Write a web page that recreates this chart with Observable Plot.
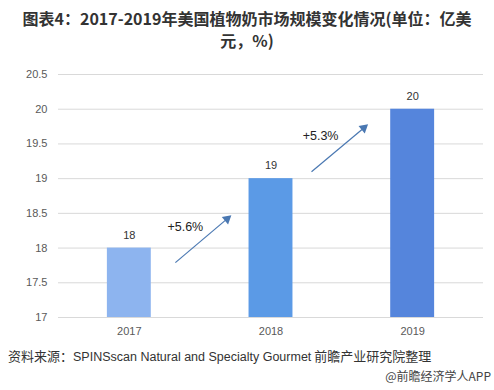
<!DOCTYPE html>
<html><head><meta charset="utf-8">
<script src="https://cdn.jsdelivr.net/npm/d3@7"></script>
<script src="https://cdn.jsdelivr.net/npm/@observablehq/plot@0.6"></script>
<style>
body{margin:0;background:#fff;width:494px;height:390px;overflow:hidden;font-family:"Noto Sans CJK SC",sans-serif;}
#title{height:55px;padding-top:7px;box-sizing:border-box;text-align:center;font-weight:bold;font-size:16px;line-height:22px;color:#333;white-space:nowrap}
#title div{height:22px}
#chart{height:290px}
#src{font-size:13px;color:#333;padding-left:8px;height:22px;line-height:22px;white-space:nowrap}
#src .en{font-family:"Liberation Sans",Arial,sans-serif;font-size:12.5px}
#wm{font-size:12px;color:#444;text-align:right;padding-right:3px;line-height:18px}
</style></head>
<body>
<div id="title"><div>图表4：2017-2019年美国植物奶市场规模变化情况(单位：亿美</div><div>元，%)</div></div>
<div id="chart"></div>
<div id="src">资料来源：<span class="en">SPINSscan Natural and Specialty Gourmet</span> 前瞻产业研究院整理</div>
<div id="wm">@前瞻经济学人APP</div>
<script>
const years = ["2017", "2018", "2019"];
const values = [18, 19, 20];
const barColors = ["#8db4ef", "#5b9ae6", "#5585dc"];
const yTicks = [17, 17.5, 18, 18.5, 19, 19.5, 20, 20.5];
const growthLabels = ["+5.6%", "+5.3%"];
// annotation anchors (x in bar-index units, y in value units)
const arrowX1 = [0.325, 1.286];
const arrowY1 = [17.79, 19.10];
const arrowX2 = [0.69, 1.655];
const arrowY2 = [18.42, 19.73];
const labelX = [0.395, 1.35];
const labelY = [18.30, 19.61];

const W = 494, H = 290, ML = 58, MR = 11, MT = 19, MB = 28;
const xDomain = [-0.5, 2.5], yDomain = [17, 20.5];
const pxX = (W - ML - MR) / (xDomain[1] - xDomain[0]);
const pxY = (H - MT - MB) / (yDomain[1] - yDomain[0]);

const bars = years.map((y, i) => ({i, year: y, value: values[i], color: barColors[i]}));
const arrows = growthLabels.map((g, k) => {
  const dx = (arrowX2[k] - arrowX1[k]) * pxX, dy = (arrowY2[k] - arrowY1[k]) * pxY;
  return {g, x1: arrowX1[k], y1: arrowY1[k], x2: arrowX2[k], y2: arrowY2[k], lx: labelX[k], ly: labelY[k],
    rot: Math.atan2(dx, dy) * 180 / Math.PI};
});
const half = 0.155;

const chart = Plot.plot({
  width: W,
  height: H,
  marginLeft: ML,
  marginRight: MR,
  marginTop: MT,
  marginBottom: MB,
  style: {fontFamily: "'Liberation Sans', Arial, sans-serif", fontSize: "11px", color: "#595959", background: "#fff"},
  x: {type: "linear", domain: xDomain, ticks: [0, 1, 2], tickFormat: i => years[i], tickSize: 0, tickPadding: 10, label: null},
  y: {domain: yDomain, ticks: yTicks, tickFormat: d => String(d), tickSize: 0, tickPadding: 11, label: null},
  color: {type: "identity"},
  marks: [
    Plot.ruleY(yTicks, {stroke: "#d9d9d9", strokeWidth: 1}),
    Plot.rectY(bars, {x1: d => d.i - half, x2: d => d.i + half, y1: 17, y2: "value", fill: "color"}),
    Plot.text(bars, {x: "i", y: "value", text: d => String(d.value), dy: -13, fill: "#333", fontSize: 11}),
    Plot.link(arrows, {x1: "x1", y1: "y1", x2: "x2", y2: "y2", stroke: "#4a78b2", strokeWidth: 1.2}),
    Plot.dot(arrows, {x: "x2", y: "y2", symbol: "triangle", r: 3.6, rotate: "rot", fill: "#4a78b2", stroke: "none"}),
    Plot.text(arrows, {x: "lx", y: "ly", text: "g", fill: "#222", fontSize: 12.5})
  ]
});
document.getElementById("chart").appendChild(chart);
</script>
</body></html>
